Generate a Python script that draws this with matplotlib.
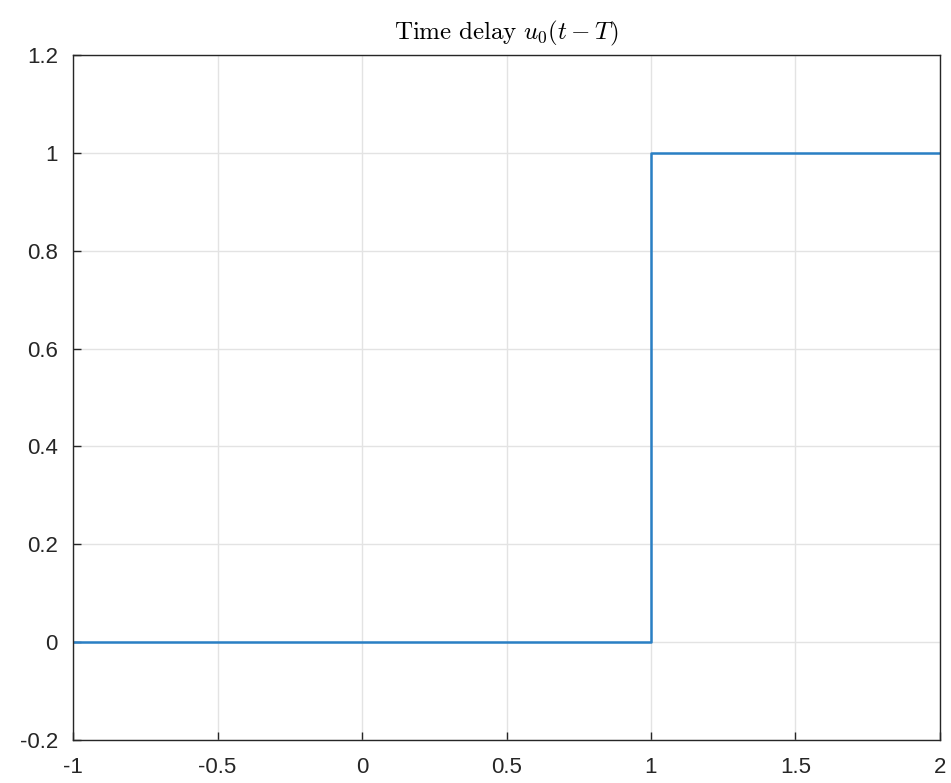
import matplotlib
matplotlib.use('Agg')
import matplotlib.pyplot as plt

# step data for u0(t - T), T = 1
t = [-1, 1, 1, 2]
u = [0, 0, 1, 1]
xticks = [-1, -0.5, 0, 0.5, 1, 1.5, 2]
xticklabels = ['-1', '-0.5', '0', '0.5', '1', '1.5', '2']
yticks = [-0.2, 0, 0.2, 0.4, 0.6, 0.8, 1, 1.2]
yticklabels = ['-0.2', '0', '0.2', '0.4', '0.6', '0.8', '1', '1.2']

plt.rcParams['font.family'] = ['Liberation Sans', 'DejaVu Sans']
plt.rcParams['mathtext.fontset'] = 'cm'

fig = plt.figure(figsize=(9.51, 7.83), dpi=100)
ax = fig.add_axes([0.0768, 0.0549, 0.9116, 0.8749])

ax.plot(t, u, color='#2a7fc4', linewidth=1.8)

ax.set_xlim(-1, 2)
ax.set_ylim(-0.2, 1.2)
ax.set_xticks(xticks)
ax.set_xticklabels(xticklabels)
ax.set_yticks(yticks)
ax.set_yticklabels(yticklabels)
ax.tick_params(axis='x', pad=12)
ax.tick_params(axis='y', pad=11)
ax.tick_params(direction='in', length=6, width=1, labelsize=16, top=False, right=False, colors='#262626')
ax.grid(True, color='#e3e3e3', linewidth=1)
ax.set_axisbelow(True)
for s in ax.spines.values():
    s.set_color('#262626')
    s.set_linewidth(1)

ax.set_title(r'$\mathrm{Time\ delay}\ u_0(t-T)$', fontsize=18, pad=11)

fig.savefig('out.png', dpi=100)
